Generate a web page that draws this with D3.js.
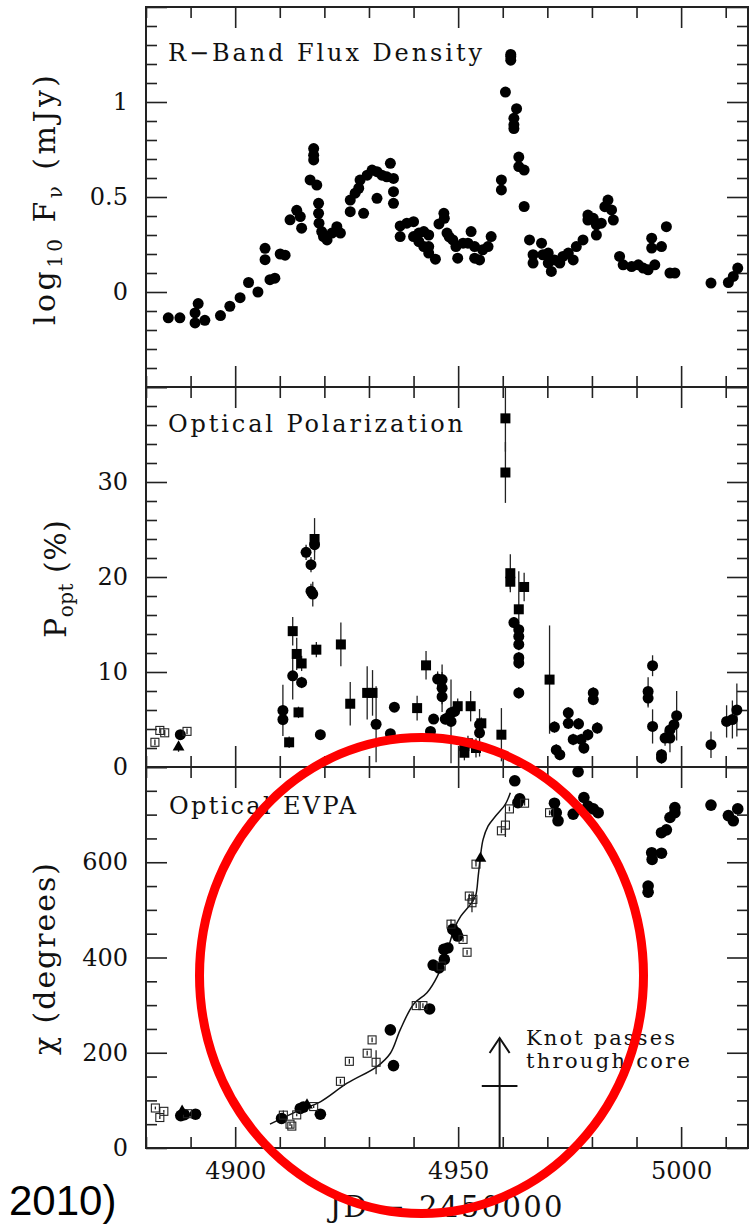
<!DOCTYPE html>
<html>
<head>
<meta charset="utf-8">
<script src="https://cdn.jsdelivr.net/npm/d3@7"></script>
<style>
body { margin: 0; background: #fff; }
svg { display: block; }
.frame { fill: none; stroke: #222; stroke-width: 2; }
.tick line { stroke: #222; stroke-width: 1.6; }
.tick text { font-family: "DejaVu Serif", serif; font-size: 24px; fill: #111; }
.lbl { font-family: "DejaVu Serif", serif; fill: #111; }
.err { stroke: #222; stroke-width: 1.3; }
</style>
</head>
<body>
<div id="chart"></div>
<script>
// R-band flux density (log10 mJy)
var fluxDays = [4885.0, 4887.6, 4891.0, 4891.0, 4891.7, 4893.2, 4896.7, 4898.8, 4901.1, 4903.0,
	4905.1, 4906.7, 4906.7, 4907.8, 4908.9, 4910.1, 4911.2, 4912.3, 4913.8, 4914.6,
	4914.9, 4916.8, 4917.6, 4917.6, 4917.6, 4918.3, 4918.7, 4918.7, 4918.8, 4919.4,
	4919.8, 4920.6, 4921.7, 4922.8, 4923.6, 4925.8, 4925.8, 4926.9, 4927.7, 4928.0,
	4928.8, 4929.6, 4930.7, 4931.8, 4931.8, 4932.9, 4934.0, 4934.8, 4935.5, 4935.5,
	4935.5, 4937.0, 4937.0, 4938.5, 4940.0, 4940.0, 4941.2, 4941.2, 4942.3, 4942.3,
	4943.4, 4943.4, 4943.4, 4944.9, 4945.7, 4946.8, 4946.9, 4947.5, 4948.0, 4948.8,
	4949.5, 4949.9, 4951.1, 4952.2, 4952.9, 4953.7, 4953.7, 4954.8, 4955.5, 4956.7,
	4957.4, 4959.7, 4959.7, 4960.6, 4961.8, 4961.8, 4961.8, 4962.5, 4962.5, 4962.5,
	4963.1, 4963.6, 4963.6, 4964.8, 4964.8, 4966.0, 4966.8, 4966.8, 4968.7, 4969.0,
	4970.2, 4970.2, 4970.9, 4971.6, 4972.8, 4973.5, 4974.7, 4975.8, 4976.5, 4978.0,
	4979.1, 4979.1, 4980.3, 4981.0, 4981.0, 4982.1, 4982.9, 4983.6, 4984.4, 4984.8,
	4986.2, 4987.0, 4988.9, 4990.4, 4991.5, 4992.6, 4993.4, 4993.4, 4994.1, 4995.6,
	4996.7, 4997.5, 4998.6, 5006.7, 5010.6, 5011.7, 5012.7];
var fluxVals = [-0.136, -0.136, -0.11, -0.163, -0.061, -0.149, -0.124, -0.075, -0.03, 0.05,
	0.0, 0.23, 0.17, 0.065, 0.073, 0.2, 0.194, 0.38, 0.43, 0.397,
	0.336, 0.59, 0.755, 0.72, 0.695, 0.563, 0.467, 0.414, 0.362, 0.318,
	0.292, 0.274, 0.31, 0.344, 0.31, 0.484, 0.423, 0.52, 0.546, 0.589,
	0.414, 0.615, 0.642, 0.493, 0.633, 0.615, 0.606, 0.677, 0.598, 0.528,
	0.467, 0.348, 0.292, 0.362, 0.37, 0.292, 0.31, 0.265, 0.318, 0.239,
	0.30, 0.239, 0.205, 0.173, 0.358, 0.414, 0.388, 0.31, 0.29, 0.274,
	0.239, 0.178, 0.257, 0.257, 0.318, 0.239, 0.178, 0.169, 0.222, 0.239,
	0.292, 0.59, 0.537, 1.052, 1.25, 1.24, 1.22, 0.914, 0.88, 0.86,
	0.965, 0.71, 0.66, 0.642, 0.45, 0.274, 0.196, 0.152, 0.257, 0.196,
	0.205, 0.152, 0.108, 0.169, 0.152, 0.187, 0.205, 0.169, 0.239, 0.274,
	0.405, 0.379, 0.388, 0.30, 0.353, 0.362, 0.449, 0.484, 0.432, 0.379,
	0.187, 0.143, 0.134, 0.143, 0.126, 0.117, 0.231, 0.283, 0.143, 0.239,
	0.344, 0.1, 0.1, 0.047, 0.05, 0.082, 0.126];

// optical polarization (%); symbols: c circle, s square, o open square, t triangle
var polDays = [4882.0, 4883.1, 4884.2, 4889.2, 4887.7, 4887.3, 4910.7, 4910.7,
	4912.1, 4912.9, 4912.9, 4913.8, 4914.2, 4914.9, 4914.9, 4915.9,
	4917.0, 4917.0, 4917.4, 4917.8, 4917.8, 4918.2, 4919.1, 4923.7,
	4925.8, 4929.6, 4930.8, 4931.6, 4934.8, 4935.7, 4940.8, 4942.8,
	4943.8, 4944.5, 4945.4, 4946.4, 4946.4, 4946.4, 4947.1, 4947.7,
	4948.4, 4948.4, 4949.2, 4949.9, 4951.4, 4951.4, 4952.2, 4952.8,
	4954.0, 4954.8, 4954.8, 4955.2, 4959.7, 4960.6, 4960.6, 4961.7,
	4961.7, 4962.5, 4963.6, 4963.6, 4963.6, 4963.6, 4963.6, 4963.6,
	4963.6, 4964.8, 4970.5, 4971.6, 4972.0, 4972.8, 4974.7, 4974.7,
	4975.8, 4977.0, 4977.6, 4978.2, 4979.1, 4980.3, 4980.3, 4981.2,
	4992.6, 4992.6, 4993.6, 4993.6, 4995.6, 4995.6, 4996.4, 4997.5,
	4997.5, 4998.4, 4999.0, 5006.7, 5010.2, 5011.5, 5012.5];
var polVals = [2.6, 3.85, 3.6, 3.75, 3.4, 2.1, 5.96, 5.0,
	2.6, 14.3, 9.6, 11.9, 5.75, 10.9, 8.9, 22.6,
	21.3, 18.5, 18.2, 24.0, 23.4, 12.35, 3.4, 12.9,
	6.66, 7.8, 7.8, 4.5, 3.5, 6.3, 6.2, 10.7,
	3.75, 5.05, 9.26, 9.2, 8.3, 7.4, 5.05, 5.15,
	4.8, 5.7, 5.85, 6.4, 2.2, 1.5, 2.5, 6.4,
	2.0, 3.6, 4.45, 4.6, 3.4, 36.7, 31.0, 20.4,
	19.5, 15.2, 16.6, 14.45, 13.75, 12.9, 11.5, 10.95,
	7.8, 18.95, 9.2, 4.2, 1.8, 1.3, 5.7, 4.6,
	2.9, 4.55, 2.9, 2.0, 3.4, 7.8, 7.1, 4.1,
	7.96, 7.26, 10.66, 4.27, 0.95, 1.3, 3.05, 3.05,
	3.9, 4.45, 5.4, 2.35, 4.8, 5.0, 6.0];
var polErr = [0.3, 0.3, 0.3, 0.3, 0.5, 0.5, 2.7, 0.6,
	0.6, 1.5, 2.5, 1.7, 0.6, 0.8, 0.6, 0.8,
	0.8, 0.8, 1.3, 2.2, 0.8, 0.8, 0.5, 2.3,
	2.3, 2.8, 2.4, 4.0, 0.5, 0.5, 1.3, 1.5,
	0.5, 0.5, 0.8, 0.8, 2.5, 0.8, 0.6, 0.6,
	4.4, 0.6, 0.6, 0.8, 0.8, 0.8, 0.8, 1.6,
	1.0, 2.5, 0.6, 0.6, 2.8, 3.5, 3.2, 2.0,
	0.8, 0.6, 4.0, 0.6, 0.6, 0.6, 0.6, 0.6,
	0.6, 1.5, 5.7, 0.6, 0.6, 0.6, 0.6, 0.6,
	0.6, 0.6, 0.6, 0.6, 0.6, 0.6, 0.6, 0.6,
	1.5, 1.0, 1.1, 1.8, 0.6, 0.6, 0.8, 1.5,
	0.8, 0.8, 2.6, 1.4, 1.7, 2.0, 2.8];
var polSym = ["o", "o", "o", "o", "c", "t", "c", "c",
	"s", "s", "c", "s", "s", "s", "c", "c",
	"c", "c", "c", "s", "c", "s", "c", "s",
	"s", "s", "s", "c", "c", "c", "s", "s",
	"c", "c", "c", "c", "c", "c", "c", "c",
	"c", "c", "c", "s", "s", "s", "s", "s",
	"s", "c", "c", "s", "s", "s", "s", "s",
	"s", "c", "s", "c", "c", "c", "c", "c",
	"c", "s", "s", "c", "c", "c", "c", "c",
	"c", "c", "c", "c", "c", "c", "c", "c",
	"c", "c", "c", "c", "c", "c", "c", "c",
	"c", "c", "c", "c", "c", "c", "c"];

// optical EVPA (degrees)
var evpaDays = [4882.1, 4883.1, 4884.0, 4887.8, 4888.1, 4888.6, 4889.3, 4891.1,
	4910.4, 4910.8, 4912.3, 4912.7, 4913.8, 4914.6, 4915.3, 4916.1,
	4917.6, 4919.1, 4923.6, 4925.6, 4929.6, 4930.7, 4931.6, 4934.8,
	4935.5, 4940.6, 4942.1, 4943.6, 4944.4, 4945.7, 4946.2, 4946.8,
	4946.9, 4947.7, 4948.4, 4948.8, 4949.6, 4949.9, 4951.1, 4952.0,
	4952.5, 4953.1, 4953.3, 4954.0, 4955.0, 4959.7, 4960.6, 4961.5,
	4962.7, 4963.4, 4963.8, 4964.9, 4970.5, 4971.6, 4972.0, 4972.4,
	4975.8, 4976.9, 4978.2, 4979.1, 4980.3, 4981.4, 4992.6, 4992.6,
	4993.4, 4993.5, 4995.6, 4995.6, 4996.7, 4997.5, 4998.6, 4998.6,
	5006.7, 5010.6, 5011.7, 5012.7];
var evpaVals = [84, 64, 77, 68, 77, 70, 72, 71,
	62, 69, 50, 46, 69.5, 83, 86, 90,
	87, 71, 140, 182, 199, 227, 180, 248,
	173, 299, 299, 292, 384, 378, 382, 417,
	396, 420, 470, 459, 452, 445, 438, 411,
	529, 515, 522, 596, 608, 666, 678, 712,
	771, 725, 733, 724, 704, 724, 704, 687,
	701, 790, 736, 718, 712, 704, 550, 537,
	620, 606, 619, 662, 668, 694, 715, 704,
	720, 698, 687, 712];
var evpaErr = [3, 3, 3, 3, 3, 3, 3, 3,
	5, 10, 4, 4, 3, 3, 3, 3,
	3, 3, 5, 5, 5, 5, 25, 5,
	5, 5, 5, 5, 5, 5, 5, 5,
	5, 5, 10, 5, 5, 5, 5, 5,
	5, 20, 5, 5, 5, 5, 25, 5,
	5, 5, 5, 5, 5, 5, 5, 5,
	5, 5, 5, 5, 5, 5, 5, 5,
	5, 5, 10, 10, 5, 5, 5, 5,
	8, 5, 5, 5];
var evpaSym = ["o", "o", "o", "c", "t", "c", "o", "c",
	"c", "o", "o", "o", "o", "c", "c", "t",
	"o", "c", "o", "o", "o", "o", "o", "c",
	"c", "o", "o", "c", "c", "c", "o", "c",
	"c", "c", "o", "c", "c", "c", "o", "o",
	"o", "o", "o", "o", "t", "o", "o", "o",
	"c", "c", "c", "o", "o", "c", "c", "c",
	"c", "c", "c", "c", "c", "c", "c", "c",
	"c", "c", "c", "c", "c", "c", "c", "c",
	"c", "c", "c", "c"];

// smooth model curve through the EVPA rotation
var curveDays = [4907.8, 4914.6, 4919.1, 4925.1, 4931.8, 4934.8, 4937.0, 4940.0, 4943.0, 4945.3,
	4947.6, 4949.1, 4950.6, 4952.8, 4953.9, 4954.5, 4955.0, 4955.6, 4956.7, 4958.4, 4960.6, 4961.7];
var curveChi = [50, 80, 97, 136, 171, 199, 248, 302, 326, 360,
	415, 460, 487, 512, 529, 571, 613, 648, 676, 697, 722, 746];

// knot passage marker (day, +/- days, chi of crossbar, chi of arrow tip)
var knotDay = 4959.3, knotSpread = 4, knotChi = 130, knotTip = 231;

// tick values and labels
var xMajor = [4900, 4950, 5000];
var fluxMajor = [-0.5, 0, 0.5, 1, 1.5], fluxLabels = [0, 0.5, 1];
var polMajor = [0, 10, 20, 30, 40], polLabels = [0, 10, 20, 30];
var evpaMajor = [0, 200, 400, 600, 800], evpaLabels = [0, 200, 400, 600];

var width = 752, height = 1225;
var left = 146, right = 748;

var svg = d3.select("#chart").append("svg")
	.attr("width", width)
	.attr("height", height);

var x = d3.scaleLinear().domain([4880, 5015]).range([left, right]);
var xMinor = d3.range(4880, 5015, 10).filter(function(d) { return xMajor.indexOf(d) < 0; });

var yFlux = d3.scaleLinear().domain([-0.5, 1.5]).range([387, 7]);
var yPol = d3.scaleLinear().domain([0, 40]).range([767, 387]);
var yEvpa = d3.scaleLinear().domain([0, 800]).range([1148, 767]);

function noDomain(g) { g.select(".domain").remove(); }

// frame + inward ticks on all four sides of one panel
function drawPanel(y, major, minorStep, labels, xLabels) {
	var top = y.range()[1], bottom = y.range()[0];
	var d0 = y.domain()[0], d1 = y.domain()[1];
	var minor = d3.range(d0, d1 + minorStep / 2, minorStep).filter(function(v) {
		return major.every(function(m) { return Math.abs(m - v) > minorStep / 10; });
	});
	var g = svg.append("g");

	g.append("g").attr("transform", "translate(0," + bottom + ")")
		.call(d3.axisBottom(x).tickValues(xMinor).tickSize(-11).tickFormat("")).call(noDomain);
	g.append("g").attr("transform", "translate(0," + bottom + ")")
		.call(d3.axisBottom(x).tickValues(xMajor).tickSize(-21).tickPadding(14)
			.tickFormat(function(d) { return xLabels ? d : ""; })).call(noDomain);
	g.append("g").attr("transform", "translate(0," + top + ")")
		.call(d3.axisTop(x).tickValues(xMinor).tickSize(-11).tickFormat("")).call(noDomain);
	g.append("g").attr("transform", "translate(0," + top + ")")
		.call(d3.axisTop(x).tickValues(xMajor).tickSize(-21).tickFormat("")).call(noDomain);

	g.append("g").attr("transform", "translate(" + left + ",0)")
		.call(d3.axisLeft(y).tickValues(minor).tickSize(-11).tickFormat("")).call(noDomain);
	g.append("g").attr("transform", "translate(" + left + ",0)")
		.call(d3.axisLeft(y).tickValues(major).tickSize(-21).tickPadding(18)
			.tickFormat(function(d) { return labels.indexOf(d) >= 0 ? d : ""; })).call(noDomain);
	g.append("g").attr("transform", "translate(" + right + ",0)")
		.call(d3.axisRight(y).tickValues(minor).tickSize(-11).tickFormat("")).call(noDomain);
	g.append("g").attr("transform", "translate(" + right + ",0)")
		.call(d3.axisRight(y).tickValues(major).tickSize(-21).tickFormat("")).call(noDomain);

	g.append("rect").attr("class", "frame")
		.attr("x", left).attr("y", top)
		.attr("width", right - left).attr("height", bottom - top);
}

drawPanel(yFlux, fluxMajor, 0.1, fluxLabels, false);
drawPanel(yPol, polMajor, 2, polLabels, false);
drawPanel(yEvpa, evpaMajor, 50, evpaLabels, true);

// points with error bars and symbols
function drawPoints(y, days, vals, errs, syms, r) {
	var lo = y.domain()[0], hi = y.domain()[1];
	var data = days.map(function(d, i) {
		return { day: d, val: vals[i], err: errs ? errs[i] : 0, sym: syms ? syms[i] : "c" };
	});
	var g = svg.append("g");

	g.selectAll(".err").data(data.filter(function(d) { return d.err > 0; }))
		.enter().append("line").attr("class", "err")
		.attr("x1", function(d) { return x(d.day); })
		.attr("x2", function(d) { return x(d.day); })
		.attr("y1", function(d) { return y(Math.max(lo, d.val - d.err)); })
		.attr("y2", function(d) { return y(Math.min(hi, d.val + d.err)); });

	g.selectAll(".pc").data(data.filter(function(d) { return d.sym === "c"; }))
		.enter().append("circle").attr("class", "pc")
		.attr("cx", function(d) { return x(d.day); })
		.attr("cy", function(d) { return y(d.val); })
		.attr("r", r).attr("fill", "#000");

	g.selectAll(".ps").data(data.filter(function(d) { return d.sym === "s"; }))
		.enter().append("rect").attr("class", "ps")
		.attr("x", function(d) { return x(d.day) - 5; })
		.attr("y", function(d) { return y(d.val) - 5; })
		.attr("width", 10).attr("height", 10).attr("fill", "#000");

	g.selectAll(".po").data(data.filter(function(d) { return d.sym === "o"; }))
		.enter().append("rect").attr("class", "po")
		.attr("x", function(d) { return x(d.day) - 4; })
		.attr("y", function(d) { return y(d.val) - 4; })
		.attr("width", 8).attr("height", 8)
		.attr("fill", "none").attr("stroke", "#222").attr("stroke-width", 1.1);

	g.selectAll(".pt").data(data.filter(function(d) { return d.sym === "t"; }))
		.enter().append("path").attr("class", "pt")
		.attr("transform", function(d) { return "translate(" + x(d.day) + "," + y(d.val) + ")"; })
		.attr("d", d3.symbol().type(d3.symbolTriangle).size(60))
		.attr("fill", "#000");
}

drawPoints(yFlux, fluxDays, fluxVals, null, null, 5.5);
drawPoints(yPol, polDays, polVals, polErr, polSym, 5.5);

// model curve
var curveLine = d3.line()
	.x(function(d) { return x(d[0]); })
	.y(function(d) { return yEvpa(d[1]); })
	.curve(d3.curveCatmullRom.alpha(0.5));
svg.append("path")
	.datum(curveDays.map(function(d, i) { return [d, curveChi[i]]; }))
	.attr("d", curveLine)
	.attr("fill", "none").attr("stroke", "#111").attr("stroke-width", 1.5);

drawPoints(yEvpa, evpaDays, evpaVals, evpaErr, evpaSym, 5.8);

// knot arrow
var kx = x(knotDay);
svg.append("line").attr("x1", kx).attr("x2", kx)
	.attr("y1", yEvpa(0)).attr("y2", yEvpa(knotTip))
	.attr("stroke", "#111").attr("stroke-width", 2);
svg.append("path")
	.attr("d", "M" + (kx - 10) + "," + (yEvpa(knotTip) + 15) + "L" + kx + "," + yEvpa(knotTip) +
		"L" + (kx + 10) + "," + (yEvpa(knotTip) + 15))
	.attr("fill", "none").attr("stroke", "#111").attr("stroke-width", 2);
svg.append("line")
	.attr("x1", x(knotDay - knotSpread)).attr("x2", x(knotDay + knotSpread))
	.attr("y1", yEvpa(knotChi)).attr("y2", yEvpa(knotChi))
	.attr("stroke", "#111").attr("stroke-width", 2);

svg.append("text").attr("class", "lbl").attr("x", 526).attr("y", 1045)
	.attr("textLength", 149).attr("lengthAdjust", "spacing")
	.style("font-size", "21px").text("Knot passes");
svg.append("text").attr("class", "lbl").attr("x", 526).attr("y", 1068)
	.attr("textLength", 164).attr("lengthAdjust", "spacing")
	.style("font-size", "21px").text("through core");

// panel titles
svg.append("text").attr("class", "lbl").attr("x", 168).attr("y", 61)
	.attr("textLength", 314).attr("lengthAdjust", "spacing")
	.style("font-size", "24px").text("R\u2212Band Flux Density");
svg.append("text").attr("class", "lbl").attr("x", 168).attr("y", 432)
	.attr("textLength", 295).attr("lengthAdjust", "spacing")
	.style("font-size", "24px").text("Optical Polarization");
svg.append("text").attr("class", "lbl").attr("x", 169).attr("y", 814)
	.attr("textLength", 187).attr("lengthAdjust", "spacing")
	.style("font-size", "24px").text("Optical EVPA");

// y axis titles
var t1 = svg.append("text").attr("class", "lbl")
	.attr("transform", "translate(55,200) rotate(-90)")
	.attr("text-anchor", "middle").style("font-size", "30px")
	.attr("textLength", 250).attr("lengthAdjust", "spacing");
t1.append("tspan").text("log");
t1.append("tspan").attr("dy", 7).style("font-size", "20px").text("10");
t1.append("tspan").attr("dy", -7).text(" F");
t1.append("tspan").attr("dy", 7).style("font-size", "20px").text("\u03bd");
t1.append("tspan").attr("dy", -7).text(" (mJy)");

var t2 = svg.append("text").attr("class", "lbl")
	.attr("transform", "translate(66,579) rotate(-90)")
	.attr("text-anchor", "middle").style("font-size", "30px")
	.attr("textLength", 118).attr("lengthAdjust", "spacing");
t2.append("tspan").text("P");
t2.append("tspan").attr("dy", 7).style("font-size", "20px").text("opt");
t2.append("tspan").attr("dy", -7).text(" (%)");

svg.append("text").attr("class", "lbl")
	.attr("transform", "translate(55,959) rotate(-90)")
	.attr("text-anchor", "middle").style("font-size", "30px")
	.attr("textLength", 192).attr("lengthAdjust", "spacing")
	.text("\u03c7 (degrees)");

// x axis title
svg.append("text").attr("class", "lbl").attr("x", 446).attr("y", 1217)
	.attr("text-anchor", "middle").style("font-size", "29px")
	.attr("textLength", 233).attr("lengthAdjust", "spacing")
	.text("JD \u2212 2450000");

// slide residue at lower left
svg.append("text").attr("x", 9).attr("y", 1215)
	.style("font-family", "'Liberation Sans', Arial, sans-serif")
	.style("font-size", "42px").attr("fill", "#000").text("2010)");

// red highlight ellipse
svg.append("ellipse")
	.attr("cx", 421.5).attr("cy", 975.5).attr("rx", 222).attr("ry", 238)
	.attr("fill", "none").attr("stroke", "#ff0000").attr("stroke-width", 9);
</script>
</body>
</html>
